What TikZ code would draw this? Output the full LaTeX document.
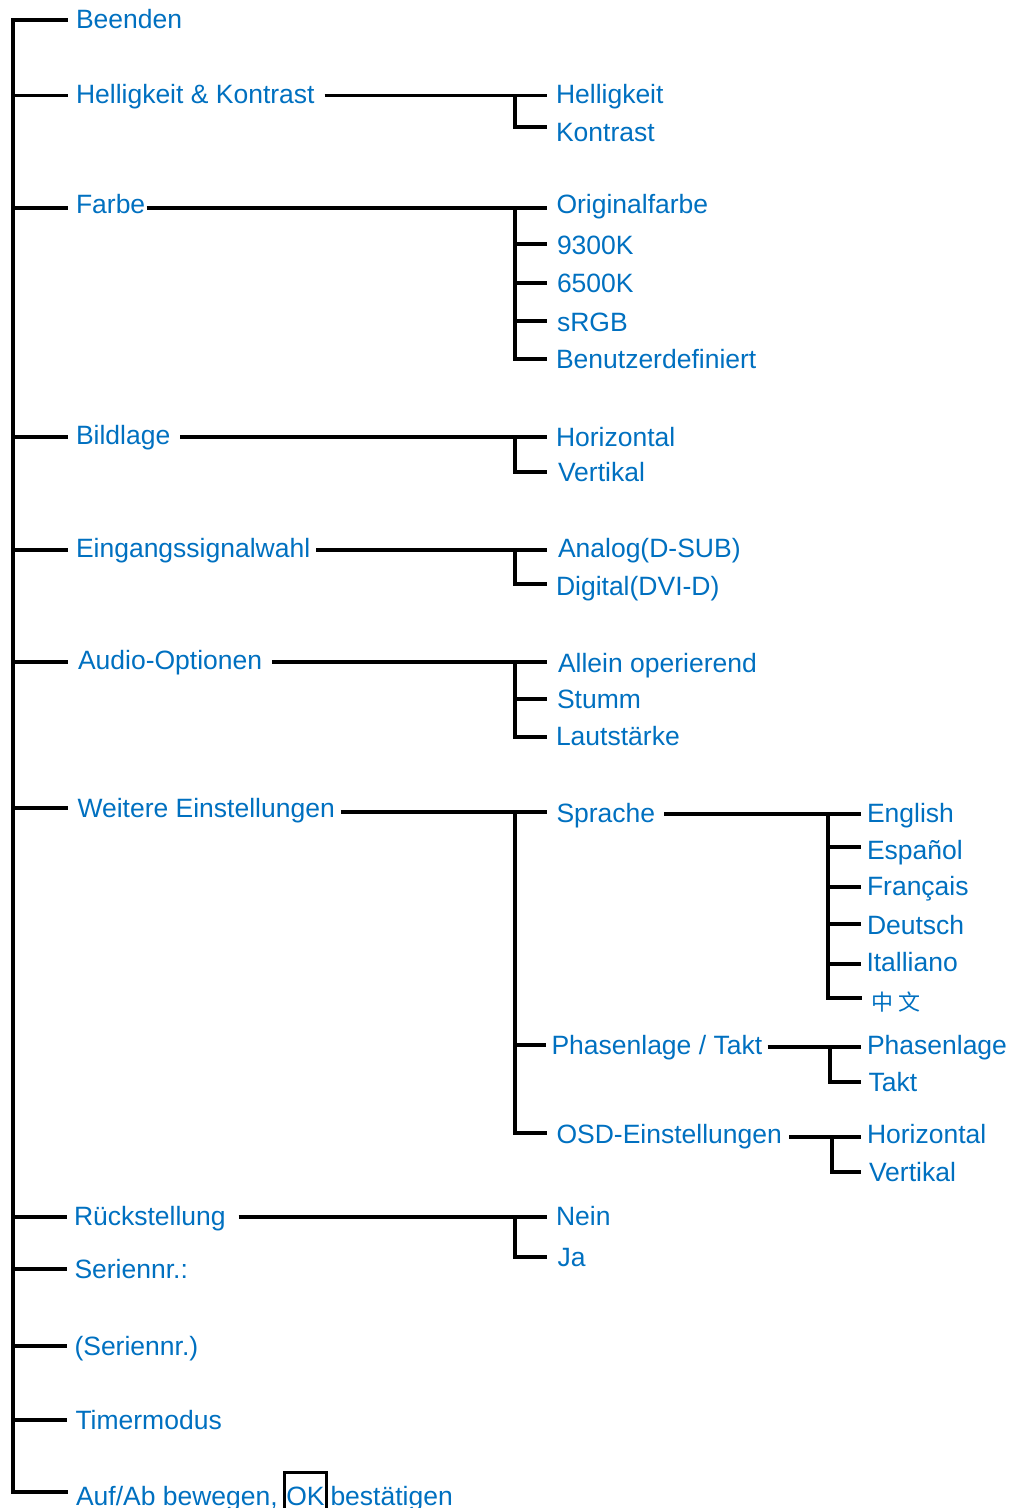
\documentclass[tikz,border=0pt]{standalone}
\usepackage{fontspec}
\setmainfont{Liberation Sans}
\newfontfamily\cjkfont{Noto Sans CJK SC}
\definecolor{tblue}{RGB}{0,112,192}
\begin{document}
\begin{tikzpicture}[x=1pt,y=-1pt,
  lbl/.style={anchor=base west,inner sep=0pt,outer sep=0pt,text=tblue,font=\fontsize{26.5}{30}\selectfont},
  ln/.style={line width=3.2pt,line join=miter,black}]
\useasboundingbox (0,0) rectangle (1012,1508);

% ---------- level 1 texts ----------
\node[lbl] (beenden) at (76,28.5) {Beenden};
\node[lbl] (hk) at (76,103.5) {Helligkeit \& Kontrast};
\node[lbl] (farbe) at (76,213.5) {Farbe};
\node[lbl] (bild) at (76,444.5) {Bildlage};
\node[lbl] (eing) at (76,557.5) {Eingangssignalwahl};
\node[lbl] (audio) at (78,669.5) {Audio-Optionen};
\node[lbl] (weit) at (77.5,817.5) {Weitere Einstellungen};
\node[lbl] (rueck) at (74,1225.5) {Rückstellung};
\node[lbl] (ser1) at (74.5,1278.5) {Seriennr.:};
\node[lbl] (ser2) at (74.5,1355.5) {(Seriennr.)};
\node[lbl] (timer) at (75.5,1429.5) {Timermodus};
\node[lbl] (aufab) at (76,1505) {Auf/Ab bewegen,};
\node[lbl,draw=black,line width=2.8pt,inner xsep=1.8pt,text height=32.5pt,text depth=24pt] (ok) at (284.5,1505) {OK};
\node[lbl] (best) at (330.5,1505) {bestätigen};

% ---------- level 2 texts ----------
\node[lbl] (hell) at (556,103.5) {Helligkeit};
\node[lbl] (kon) at (556,141.5) {Kontrast};
\node[lbl] (orig) at (556.5,213.5) {Originalfarbe};
\node[lbl] (k93) at (557,254.5) {9300K};
\node[lbl] (k65) at (557,292.5) {6500K};
\node[lbl] (srgb) at (557,331) {sRGB};
\node[lbl] (benu) at (556,368) {Benutzerdefiniert};
\node[lbl] (hor) at (556,446) {Horizontal};
\node[lbl] (ver) at (558,481.5) {Vertikal};
\node[lbl] (ana) at (558,557.5) {Analog(D-SUB)};
\node[lbl] (dig) at (556,595.5) {Digital(DVI-D)};
\node[lbl] (all) at (558,672) {Allein operierend};
\node[lbl] (stumm) at (557,708.5) {Stumm};
\node[lbl] (laut) at (556,745) {Lautstärke};
\node[lbl] (spr) at (556.5,822) {Sprache};
\node[lbl] (phta) at (551.5,1054.5) {Phasenlage / Takt};
\node[lbl] (osd) at (556.5,1143.5) {OSD-Einstellungen};
\node[lbl] (nein) at (556,1225) {Nein};
\node[lbl] (ja) at (557.5,1266.5) {Ja};

% ---------- level 3 texts ----------
\node[lbl] (eng) at (867,822) {English};
\node[lbl] (esp) at (867,859) {Español};
\node[lbl] (fra) at (867,895.5) {Français};
\node[lbl] (deu) at (867,934) {Deutsch};
\node[lbl] (ita) at (866.5,971.5) {Italliano};
\node[anchor=west,inner sep=0pt,outer sep=0pt,text=tblue,font=\cjkfont\fontsize{22}{26}\selectfont] (zh) at (871,1002) {中\hspace{5pt}文};
\node[lbl] (ph) at (867,1054.5) {Phasenlage};
\node[lbl] (takt) at (868.5,1091.5) {Takt};
\node[lbl] (hor2) at (867,1143.5) {Horizontal};
\node[lbl] (ver2) at (869,1181.5) {Vertikal};

% ---------- main bus ----------
\coordinate (t1) at (13,20);
\coordinate (t2) at (13,95.5);
\coordinate (t3) at (13,208);
\coordinate (t4) at (13,437);
\coordinate (t5) at (13,550);
\coordinate (t6) at (13,662);
\coordinate (t7) at (13,808);
\coordinate (t8) at (13,1217);
\coordinate (t9) at (13,1269);
\coordinate (t10) at (13,1346);
\coordinate (t11) at (13,1420);
\coordinate (t12) at (13,1492);
\draw[ln,shorten <=8.5pt,shorten >=8.5pt] (t1 -| beenden.west) -- (t1) -- (t12) -- (t12 -| aufab.west);
\draw[ln,shorten >=8.5pt] (t2) -- (t2 -| hk.west);
\draw[ln,shorten >=8.5pt] (t3) -- (t3 -| farbe.west);
\draw[ln,shorten >=8.5pt] (t4) -- (t4 -| bild.west);
\draw[ln,shorten >=8.5pt] (t5) -- (t5 -| eing.west);
\draw[ln,shorten >=10.5pt] (t6) -- (t6 -| audio.west);
\draw[ln,shorten >=10pt] (t7) -- (t7 -| weit.west);
\draw[ln,shorten >=7pt] (t8) -- (t8 -| rueck.west);
\draw[ln,shorten >=7.5pt] (t9) -- (t9 -| ser1.west);
\draw[ln,shorten >=7.5pt] (t10) -- (t10 -| ser2.west);
\draw[ln,shorten >=8.5pt] (t11) -- (t11 -| timer.west);

% ---------- Helligkeit & Kontrast ----------
\coordinate (a1) at (515,95.5);
\coordinate (a2) at (515,127);
\draw[ln,shorten <=10pt,shorten >=9pt] (hk.east |- a1) -- (a1 -| hell.west);
\draw[ln,shorten >=9pt] (a1) -- (a2) -- (a2 -| kon.west);

% ---------- Farbe ----------
\coordinate (f1) at (515,208);
\coordinate (f2) at (515,244);
\coordinate (f3) at (515,283);
\coordinate (f4) at (515,321);
\coordinate (f5) at (515,359);
\draw[ln,shorten <=1.5pt,shorten >=9.5pt] (farbe.east |- f1) -- (f1 -| orig.west);
\draw[ln,shorten >=9pt] (f1) -- (f5) -- (f5 -| benu.west);
\draw[ln,shorten >=10pt] (f2) -- (f2 -| k93.west);
\draw[ln,shorten >=10pt] (f3) -- (f3 -| k65.west);
\draw[ln,shorten >=10pt] (f4) -- (f4 -| srgb.west);

% ---------- Bildlage ----------
\coordinate (b1) at (515,437);
\coordinate (b2) at (515,472);
\draw[ln,shorten <=10pt,shorten >=9pt] (bild.east |- b1) -- (b1 -| hor.west);
\draw[ln,shorten >=11pt] (b1) -- (b2) -- (b2 -| ver.west);

% ---------- Eingangssignalwahl ----------
\coordinate (e1) at (515,550);
\coordinate (e2) at (515,584);
\draw[ln,shorten <=6pt,shorten >=11pt] (eing.east |- e1) -- (e1 -| ana.west);
\draw[ln,shorten >=9pt] (e1) -- (e2) -- (e2 -| dig.west);

% ---------- Audio-Optionen ----------
\coordinate (o1) at (515,662);
\coordinate (o2) at (515,699);
\coordinate (o3) at (515,737);
\draw[ln,shorten <=10pt,shorten >=11pt] (audio.east |- o1) -- (o1 -| all.west);
\draw[ln,shorten >=9pt] (o1) -- (o3) -- (o3 -| laut.west);
\draw[ln,shorten >=10pt] (o2) -- (o2 -| stumm.west);

% ---------- Weitere Einstellungen ----------
\coordinate (w1) at (515,812);
\coordinate (w2) at (515,1045);
\coordinate (w3) at (515,1133);
\draw[ln,shorten <=6pt,shorten >=9.5pt] (weit.east |- w1) -- (w1 -| spr.west);
\draw[ln,shorten >=9.5pt] (w1) -- (w3) -- (w3 -| osd.west);
\draw[ln,shorten >=5.5pt] (w2) -- (w2 -| phta.west);

% ---------- Sprache ----------
\coordinate (s1) at (828,814);
\coordinate (s2) at (828,847);
\coordinate (s3) at (828,887);
\coordinate (s4) at (828,924);
\coordinate (s5) at (828,964);
\coordinate (s6) at (828,998);
\draw[ln,shorten <=9pt,shorten >=6pt] (spr.east |- s1) -- (s1 -| eng.west);
\draw[ln,shorten >=9pt] (s1) -- (s6) -- (s6 -| zh.west);
\draw[ln,shorten >=6pt] (s2) -- (s2 -| esp.west);
\draw[ln,shorten >=6pt] (s3) -- (s3 -| fra.west);
\draw[ln,shorten >=6pt] (s4) -- (s4 -| deu.west);
\draw[ln,shorten >=5.5pt] (s5) -- (s5 -| ita.west);

% ---------- Phasenlage / Takt ----------
\coordinate (p1) at (830,1047);
\coordinate (p2) at (830,1082);
\draw[ln,shorten <=5.5pt,shorten >=6pt] (phta.east |- p1) -- (p1 -| ph.west);
\draw[ln,shorten >=7.5pt] (p1) -- (p2) -- (p2 -| takt.west);

% ---------- OSD-Einstellungen ----------
\coordinate (d1) at (832,1137);
\coordinate (d2) at (832,1172);
\draw[ln,shorten <=7.5pt,shorten >=6pt] (osd.east |- d1) -- (d1 -| hor2.west);
\draw[ln,shorten >=8pt] (d1) -- (d2) -- (d2 -| ver2.west);

% ---------- Rückstellung ----------
\coordinate (r1) at (515,1217);
\coordinate (r2) at (515,1257);
\draw[ln,shorten <=13pt,shorten >=9pt] (rueck.east |- r1) -- (r1 -| nein.west);
\draw[ln,shorten >=10.5pt] (r1) -- (r2) -- (r2 -| ja.west);
\end{tikzpicture}
\end{document}
